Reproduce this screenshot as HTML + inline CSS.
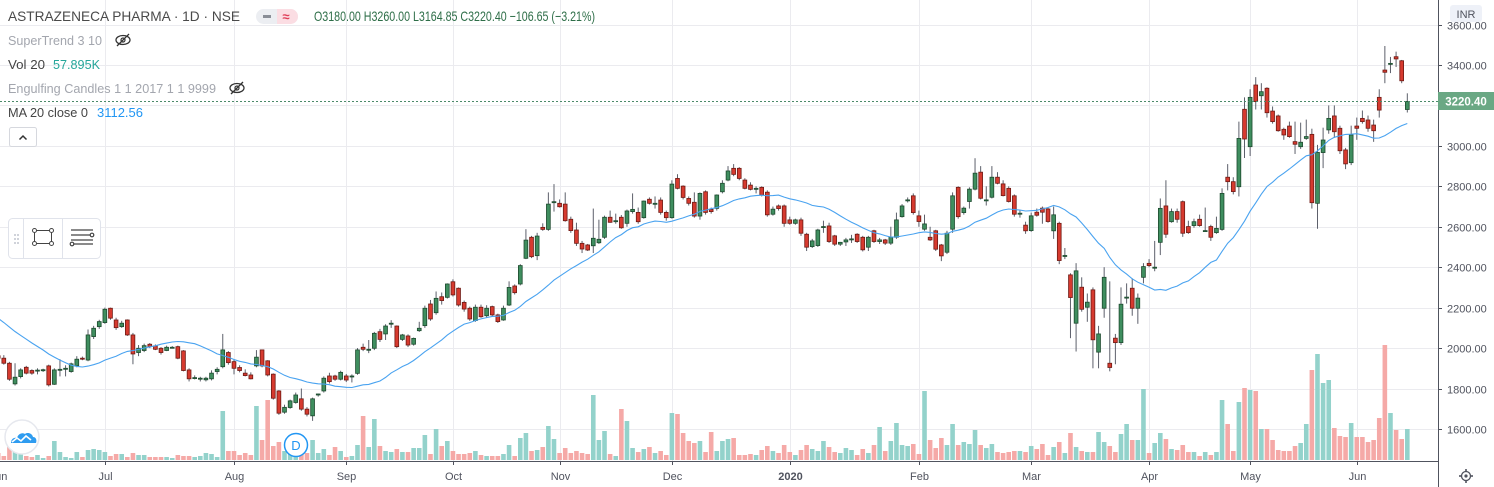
<!DOCTYPE html>
<html><head><meta charset="utf-8"><style>
html,body{margin:0;padding:0;background:#fff;}
svg{display:block;font-family:"Liberation Sans",sans-serif;}
</style></head><body>
<svg id="chart" width="1494" height="487" viewBox="0 0 1494 487" xmlns="http://www.w3.org/2000/svg">
<g id="grid"></g>
<g id="volumes"></g>
<g id="candles"></g>
<path id="ma" fill="none" stroke="#4aa3f0" stroke-width="1.1"/>
<line x1="0" y1="101.5" x2="1438" y2="101.5" stroke="#4c8a6a" stroke-width="1" stroke-dasharray="2,2"/>
<rect x="1438" y="0" width="56" height="487" fill="#fff"/>
<line x1="1438.5" y1="0" x2="1438.5" y2="487" stroke="#50535e" stroke-width="1"/>
<rect x="0" y="461" width="1438" height="26" fill="#fff"/>
<line x1="0" y1="461.5" x2="1438" y2="461.5" stroke="#50535e" stroke-width="1"/>
<g id="yaxis"></g>
<g id="xaxis"></g>
<g><rect x="1450" y="5" width="32" height="17" rx="3" fill="#eef1f8"/><text x="1466" y="18" font-size="11" fill="#50535e" text-anchor="middle">INR</text></g>
<g><rect x="1438" y="92" width="56" height="18" fill="#6aa884"/><text x="1466" y="105.5" font-size="11.5" fill="#fff" text-anchor="middle" font-weight="bold">3220.40</text></g>
<g transform="translate(1466,476)"><circle r="4.5" fill="none" stroke="#50535e" stroke-width="1.3"/><circle r="1.6" fill="#50535e"/><g stroke="#50535e" stroke-width="1.6"><line x1="0" y1="-7" x2="0" y2="-4.5"/><line x1="0" y1="7" x2="0" y2="4.5"/><line x1="-7" y1="0" x2="-4.5" y2="0"/><line x1="7" y1="0" x2="4.5" y2="0"/></g></g>
<text x="8" y="21" font-size="14" fill="#4a4a4a" textLength="232" lengthAdjust="spacingAndGlyphs">ASTRAZENECA PHARMA · 1D · NSE</text>
<g><rect x="256" y="9" width="42" height="15" rx="7.5" fill="#eceef2"/><path d="M277 9h13.5a7.5 7.5 0 0 1 0 15H277z" fill="#fbdde3"/><line x1="263" y1="16.5" x2="271" y2="16.5" stroke="#8a8e97" stroke-width="3"/><text x="286" y="21" font-size="13" fill="#e0405a" text-anchor="middle" font-weight="bold">≈</text></g>
<text x="314" y="21" font-size="14" fill="#2e6e48" textLength="281" lengthAdjust="spacingAndGlyphs">O3180.00 H3260.00 L3164.85 C3220.40 −106.65 (−3.21%)</text>
<text x="8" y="45" font-size="13" fill="#a3a6ae" textLength="94" lengthAdjust="spacingAndGlyphs">SuperTrend 3 10</text>
<g transform="translate(123,40)"><ellipse rx="7" ry="4.5" fill="none" stroke="#333" stroke-width="1.3"/><circle r="2" fill="none" stroke="#333" stroke-width="1.2"/><line x1="-6" y1="6" x2="6" y2="-6" stroke="#333" stroke-width="1.3"/></g>
<text x="8" y="69" font-size="13" fill="#444" textLength="37" lengthAdjust="spacingAndGlyphs">Vol 20</text>
<text x="53" y="69" font-size="13" fill="#26a69a" textLength="47" lengthAdjust="spacingAndGlyphs">57.895K</text>
<text x="8" y="93" font-size="13" fill="#a3a6ae" textLength="208" lengthAdjust="spacingAndGlyphs">Engulfing Candles 1 1 2017 1 1 9999</text>
<g transform="translate(237,88)"><ellipse rx="7" ry="4.5" fill="none" stroke="#333" stroke-width="1.3"/><circle r="2" fill="none" stroke="#333" stroke-width="1.2"/><line x1="-6" y1="6" x2="6" y2="-6" stroke="#333" stroke-width="1.3"/></g>
<text x="8" y="117" font-size="13" fill="#444" textLength="80" lengthAdjust="spacingAndGlyphs">MA 20 close 0</text>
<text x="97" y="117" font-size="13" fill="#2196f3" textLength="46" lengthAdjust="spacingAndGlyphs">3112.56</text>
<g><rect x="9.5" y="127.5" width="27" height="19" rx="2" fill="#fff" stroke="#d6d8de"/><path d="M19.5 139.5l3.5-3.5 3.5 3.5" fill="none" stroke="#333" stroke-width="1.5"/></g>
<g><rect x="8.5" y="218.5" width="92" height="40" rx="4" fill="#fff" stroke="#e0e3eb"/><g fill="#d0d3da"><rect x="14" y="234" width="2" height="2"/><rect x="17" y="234" width="2" height="2"/><rect x="14" y="238" width="2" height="2"/><rect x="17" y="238" width="2" height="2"/><rect x="14" y="242" width="2" height="2"/><rect x="17" y="242" width="2" height="2"/></g><line x1="23.5" y1="219" x2="23.5" y2="258" stroke="#e0e3eb"/><line x1="62.5" y1="219" x2="62.5" y2="258" stroke="#e0e3eb"/><g fill="#fff" stroke="#444" stroke-width="1"><rect x="34.5" y="230.5" width="17" height="13" fill="none"/><circle cx="34.5" cy="230.5" r="2"/><circle cx="51.5" cy="230.5" r="2"/><circle cx="34.5" cy="243.5" r="2"/><circle cx="51.5" cy="243.5" r="2"/></g><g stroke="#444" stroke-width="1.2" fill="#fff"><line x1="71" y1="230" x2="93" y2="230"/><line x1="71" y1="235" x2="90" y2="235"/><line x1="71" y1="240" x2="93" y2="240"/><line x1="74" y1="244" x2="93" y2="244"/><circle cx="92" cy="235" r="1.8"/><circle cx="72" cy="244" r="1.8"/></g></g>
<g><circle cx="22" cy="437" r="17" fill="#fff" stroke="#e6e8ee" stroke-width="1.5"/><path d="M11 443c0-4 3-6 6-5 1-4 5-6 8-4 2-2 7-1 8 3 3 0 4 3 3 6z" fill="#2f9cf0"/><path d="M12 442l5-4 4 3 5-5 5 4" fill="none" stroke="#fff" stroke-width="1.6"/></g>
<g><circle cx="296" cy="445" r="11.5" fill="#fff" stroke="#2196f3" stroke-width="1.5"/><text x="296" y="450" font-size="13" fill="#2196f3" text-anchor="middle">D</text></g>
</svg>
<script>
const priceTicks = [3600,3400,3200,3000,2800,2600,2400,2200,2000,1800,1600];
const monthLabels = ["Jun","Jul","Aug","Sep","Oct","Nov","Dec","2020","Feb","Mar","Apr","May","Jun"];
const monthIndex = [0,19,42,62,81,100,120,141,164,184,205,223,242];
const priorCloses = [2330,2310,2290,2270,2260,2250,2240,2230,2220,2200,2190,2170,2160,2060,2000,1980,1960,1950,1920];
const candles = [
[1962,1972,1940,1950],[1950,1965,1918,1925],[1925,1932,1838,1846],[1823,1925,1815,1856],[1859,1900,1850,1892],
[1905,1912,1870,1876],[1889,1895,1868,1876],[1888,1900,1870,1891],[1890,1898,1882,1893],[1912,1918,1810,1818],
[1821,1900,1818,1892],[1893,1945,1860,1895],[1898,1915,1860,1900],[1884,1928,1878,1922],[1912,1960,1905,1945],
[1950,1958,1940,1945],[1941,2092,1935,2065],[2057,2110,2045,2098],[2106,2140,2095,2131],[2126,2200,2120,2192],
[2197,2200,2140,2148],[2139,2150,2090,2101],[2106,2135,2100,2123],[2139,2142,2060,2065],[2065,2075,1920,1971],
[1978,2015,1960,1999],[1988,2022,1980,2012],[2019,2025,2000,2007],[2011,2018,1990,1994],[1999,2005,1968,1978],
[1988,2012,1985,2004],[2004,2010,1998,2004],[2007,2012,1945,1950],[1986,1990,1885,1889],[1892,1900,1835,1848],
[1854,1865,1845,1854],[1851,1858,1835,1851],[1843,1858,1835,1851],[1848,1890,1840,1876],[1884,1905,1870,1895],
[1908,2070,1900,1991],[1978,1985,1918,1928],[1933,1945,1870,1900],[1904,1915,1880,1889],[1876,1895,1860,1864],
[1867,1880,1845,1848],[1912,1990,1905,1955],[1991,1993,1905,1912],[1937,1940,1860,1867],[1871,1875,1745,1752],
[1788,1792,1670,1678],[1683,1720,1675,1707],[1706,1745,1700,1739],[1731,1780,1725,1768],[1749,1800,1690,1698],
[1698,1708,1662,1673],[1665,1755,1640,1749],[1768,1775,1760,1773],[1788,1860,1780,1851],[1862,1878,1825,1834],
[1862,1868,1838,1846],[1846,1888,1840,1880],[1862,1872,1832,1842],[1860,1870,1830,1862],[1875,2000,1868,1991],
[2004,2022,1985,1994],[1994,2040,1975,1994],[1999,2080,1990,2073],[2081,2095,2030,2043],[2070,2118,2040,2109],
[2123,2138,2100,2123],[2109,2112,2000,2007],[2043,2070,2035,2065],[2060,2068,2005,2015],[2019,2052,2012,2048],
[2086,2130,2080,2098],[2111,2210,2100,2197],[2218,2238,2135,2144],[2175,2280,2165,2246],[2254,2275,2215,2235],
[2251,2320,2245,2317],[2328,2340,2255,2263],[2296,2300,2205,2213],[2226,2235,2180,2193],[2197,2205,2135,2144],
[2136,2215,2130,2202],[2202,2215,2150,2155],[2160,2212,2150,2197],[2205,2210,2155,2164],[2164,2170,2124,2131],
[2139,2210,2135,2197],[2213,2330,2208,2300],[2307,2315,2265,2274],[2317,2415,2310,2408],[2444,2588,2440,2534],
[2548,2555,2445,2452],[2457,2570,2435,2554],[2597,2617,2580,2587],[2587,2770,2580,2712],[2720,2811,2675,2724],
[2716,2735,2695,2699],[2712,2770,2625,2630],[2637,2650,2570,2581],[2584,2620,2505,2518],[2518,2530,2470,2490],
[2510,2515,2480,2485],[2506,2690,2470,2543],[2521,2635,2515,2538],[2548,2655,2540,2647],[2647,2680,2620,2622],
[2630,2665,2615,2630],[2647,2658,2590,2595],[2617,2685,2600,2678],[2675,2765,2665,2686],[2671,2695,2615,2625],
[2645,2730,2640,2727],[2736,2745,2710,2716],[2716,2750,2690,2716],[2732,2745,2660,2671],[2671,2680,2630,2645],
[2645,2830,2640,2811],[2839,2860,2785,2790],[2801,2805,2735,2745],[2740,2750,2705,2716],[2721,2770,2645,2653],
[2653,2770,2635,2765],[2773,2780,2660,2671],[2686,2695,2665,2675],[2691,2760,2680,2757],[2773,2830,2765,2815],
[2831,2900,2825,2876],[2889,2910,2850,2859],[2889,2895,2830,2839],[2831,2840,2785,2790],[2806,2820,2780,2785],
[2790,2800,2765,2790],[2795,2800,2750,2757],[2771,2780,2650,2659],[2662,2700,2655,2687],[2703,2710,2680,2690],
[2703,2710,2600,2617],[2634,2650,2610,2617],[2617,2640,2610,2634],[2634,2645,2555,2568],[2563,2570,2480,2499],
[2502,2540,2495,2530],[2507,2590,2500,2584],[2601,2630,2570,2601],[2604,2620,2520,2527],[2555,2560,2505,2514],
[2514,2525,2505,2523],[2525,2545,2505,2535],[2535,2560,2520,2540],[2563,2568,2520,2527],[2548,2555,2478,2486],
[2499,2555,2480,2548],[2580,2585,2520,2527],[2527,2545,2515,2535],[2535,2540,2510,2519],[2519,2600,2510,2548],
[2548,2670,2540,2634],[2650,2712,2645,2703],[2733,2745,2720,2733],[2753,2765,2660,2670],[2654,2680,2600,2626],
[2588,2660,2580,2614],[2548,2600,2530,2535],[2580,2585,2480,2489],[2510,2515,2430,2456],[2474,2580,2465,2568],
[2588,2770,2570,2753],[2795,2800,2640,2650],[2670,2700,2660,2692],[2725,2795,2690,2786],[2786,2939,2780,2865],
[2870,2900,2735,2741],[2733,2800,2705,2733],[2746,2900,2740,2845],[2845,2870,2810,2815],[2812,2830,2750,2754],
[2790,2800,2720,2725],[2753,2760,2650,2662],[2667,2680,2645,2667],[2608,2625,2565,2580],[2581,2670,2575,2654],
[2672,2690,2650,2657],[2692,2700,2615,2672],[2688,2695,2620,2626],[2580,2700,2540,2659],[2617,2625,2415,2433],
[2458,2495,2440,2458],[2362,2370,2049,2250],[2123,2420,1983,2382],[2301,2350,2180,2192],[2202,2270,2130,2227],
[2288,2300,1900,2041],[1980,2110,1900,2070],[2197,2400,2150,2350],[1925,2330,1885,1904],[2049,2070,1920,2027],
[2027,2300,2015,2217],[2252,2320,2220,2252],[2296,2345,2160,2197],[2197,2270,2120,2247],[2350,2420,2320,2403],
[2419,2440,2400,2408],[2400,2530,2380,2400],[2523,2740,2460,2691],[2703,2830,2545,2563],[2625,2690,2620,2675],
[2675,2690,2620,2637],[2724,2730,2550,2568],[2601,2630,2565,2571],[2606,2640,2595,2625],[2637,2660,2600,2606],
[2581,2695,2575,2581],[2601,2610,2530,2548],[2571,2650,2565,2592],[2587,2790,2580,2765],[2845,2910,2780,2823],
[2823,2845,2760,2774],[2798,3120,2750,3037],[3181,3240,2940,3034],[2996,3280,2950,3240],[3301,3340,3180,3219],
[3248,3310,3180,3268],[3285,3290,3140,3164],[3172,3195,3110,3120],[3148,3155,3070,3075],[3082,3090,3030,3054],
[3098,3120,3040,3046],[3021,3120,2960,3008],[2996,3115,2985,3018],[3037,3130,3030,3046],[3057,3085,2690,2719],
[2716,3005,2590,2968],[2967,3090,2890,3029],[3079,3200,3060,3136],[3148,3200,3040,3070],[3087,3100,2960,2976],
[2980,2990,2885,2911],[2917,3100,2905,3054],[3098,3140,3030,3087],[3136,3175,3110,3120],[3128,3150,3070,3087],
[3103,3130,3020,3075],[3240,3280,3140,3177],[3375,3494,3310,3364],[3408,3440,3360,3408],[3441,3466,3390,3430],
[3421,3425,3310,3322],[3180,3260,3165,3220]];
const volumes = [
35,20,70,50,30,20,15,25,10,20, 95,40,15,10,40,15,50,55,50,40, 20,30,30,15,35,25,25,15,15,15,
15,10,25,20,20,15,20,35,30,15, 245,45,45,25,35,25,270,100,300,70, 90,45,50,100,60,35,100,35,55,25,
65,45,15,20,75,220,65,205,70,45, 40,55,40,40,60,60,125,30,155,70, 95,45,30,30,35,45,25,20,20,20,
30,75,20,110,135,45,50,65,170,105, 35,60,35,45,35,30,325,100,145,30, 20,255,195,60,40,55,65,35,45,25,
235,230,135,95,85,95,40,140,45,95, 105,110,25,25,30,25,50,70,45,35, 75,40,25,50,75,55,45,95,65,40,
35,60,50,25,55,35,75,165,45,95, 185,75,70,80,30,345,100,60,110,75, 180,75,90,80,150,75,60,80,40,35,
40,45,45,40,70,55,80,25,65,90, 35,135,65,45,40,40,140,90,70,40, 130,180,100,100,355,35,85,135,105,55,
50,75,40,40,20,40,25,40,300,180, 45,290,360,350,345,155,155,100,50,45, 45,70,85,180,450,530,385,400,160,120,
115,185,115,115,90,100,210,575,235,150, 105,155];

const NS='http://www.w3.org/2000/svg';
const X0=-1.8, STEP=5.614, Y65=65, PPX=0.2022, VBASE=460, VSCALE=0.2;
function xOf(i){return X0+i*STEP;}
function yOf(p){return Y65+(3400-p)*PPX;}
function mk(tag,attrs,parent){const e=document.createElementNS(NS,tag);for(const k in attrs)e.setAttribute(k,attrs[k]);parent.appendChild(e);return e;}

const grid=document.getElementById('grid');
const yaxis=document.getElementById('yaxis');
priceTicks.forEach(p=>{
  const y=Math.round(yOf(p))+0.5;
  const gl=mk('line',{x1:0,x2:1438,y1:y,y2:y,stroke:'#ebebef','stroke-width':1},grid);
  
  
  mk('line',{x1:1438,x2:1442,y1:y,y2:y,stroke:'#50535e'},yaxis);
  const t=mk('text',{x:1447,y:y+4,'font-size':11,fill:'#50535e'},yaxis);
  t.textContent=p.toFixed(2);
  
  
});
const xaxis=document.getElementById('xaxis');
monthIndex.forEach((ix,k)=>{
  const x=Math.round(xOf(ix))+0.5;
  const gl=mk('line',{x1:x,x2:x,y1:0,y2:461,stroke:'#ebebef','stroke-width':1},grid);
  
  
  mk('line',{x1:x,x2:x,y1:461,y2:465,stroke:'#50535e'},xaxis);
  const t=mk('text',{x:x,y:480,'font-size':11,fill:'#50535e','text-anchor':'middle'},xaxis);
  if(monthLabels[k]==='2020')t.setAttribute('font-weight','bold');
  t.textContent=monthLabels[k];
  
  
});

const vg=document.getElementById('volumes');
const cg=document.getElementById('candles');
candles.forEach((c,i)=>{
  const [o,h,l,cl]=c; const up=cl>=o; const x=xOf(i);
  const vh=volumes[i]*VSCALE;
  const vb=mk('rect',{x:x-2.3,y:VBASE-vh,width:4.6,height:vh,fill:up?'#93d2cb':'#f5a9a7'},vg);
  
  
  const g=mk('g',{},cg);
  
  
  mk('line',{x1:x,x2:x,y1:yOf(h),y2:yOf(l),stroke:'#5d606b','stroke-width':1},g);
  const top=yOf(Math.max(o,cl)), bot=yOf(Math.min(o,cl));
  mk('rect',{x:x-1.9,y:top,width:3.8,height:Math.max(bot-top,1),fill:up?'#3f8e5f':'#d63a2f',stroke:up?'#1d4a2e':'#6e1a14','stroke-width':0.8},g);
});

const closes=candles.map(c=>c[3]);
const all=priorCloses.concat(closes);
let d='';
closes.forEach((_,i)=>{
  const k=i+priorCloses.length; let s=0;
  for(let j=k-19;j<=k;j++)s+=all[j];
  const ma=s/20;
  d+=(i?'L':'M')+xOf(i).toFixed(1)+' '+yOf(ma).toFixed(1);
});
document.getElementById('ma').setAttribute('d',d);
</script>
</body></html>
